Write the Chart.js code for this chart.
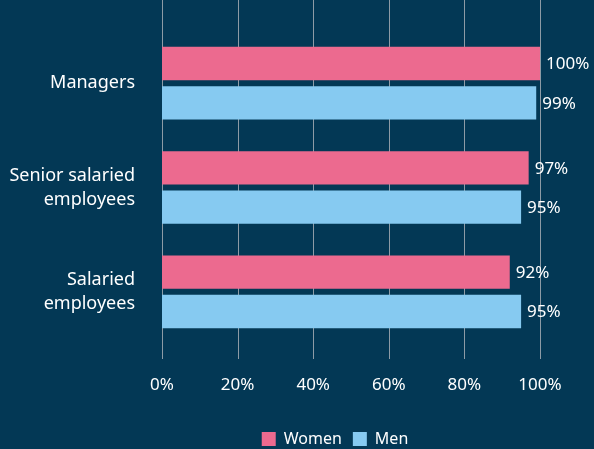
<!DOCTYPE html>
<html>
<head>
<meta charset="utf-8">
<script src="https://cdn.jsdelivr.net/npm/chart.js@4/dist/chart.umd.min.js"></script>
<style>
  html, body { margin: 0; padding: 0; background: #033855; }
  #wrap { width: 594px; height: 449px; }
</style>
</head>
<body>
<div id="wrap"><canvas id="chart" width="594" height="449"></canvas></div>
<script>
const categories = [['Managers'], ['Senior salaried', 'employees'], ['Salaried', 'employees']];
const women = [100, 97, 92];
const men = [99, 95, 95];
const xTicks = [0, 20, 40, 60, 80, 100];

const PINK = '#ec6a8f';
const BLUE = '#86caf1';
const FONT = '"Noto Sans", sans-serif';

// vertical grid lines, drawn from the top of the canvas down past the plot
const gridPlugin = {
  id: 'grid',
  beforeDatasetsDraw(chart) {
    const ctx = chart.ctx;
    const x = chart.scales.x;
    ctx.save();
    ctx.strokeStyle = '#8d9ba6';
    ctx.lineWidth = 1;
    xTicks.forEach(v => {
      const px = Math.round(x.getPixelForValue(v)) + 0.5;
      ctx.beginPath();
      ctx.moveTo(px, 0);
      ctx.lineTo(px, chart.chartArea.bottom + 15);
      ctx.stroke();
    });
    ctx.restore();
  }
};

// value labels at the end of each bar
const valuePlugin = {
  id: 'values',
  afterDatasetsDraw(chart) {
    const ctx = chart.ctx;
    ctx.save();
    ctx.fillStyle = '#ffffff';
    ctx.font = '17px ' + FONT;
    ctx.textBaseline = 'middle';
    ctx.textAlign = 'left';
    chart.data.datasets.forEach((ds, i) => {
      chart.getDatasetMeta(i).data.forEach((bar, j) => {
        ctx.fillText(ds.data[j] + '%', bar.x + 6, bar.y + 1);
      });
    });
    ctx.restore();
  }
};

// nudge the legend a little left of the plot centre
const legendShift = {
  id: 'legendShift',
  afterLayout(chart) {
    if (chart.legend) {
      chart.legend.left -= 16;
      chart.legend.right -= 16;
    }
  }
};

new Chart(document.getElementById('chart'), {
  type: 'bar',
  data: {
    labels: categories,
    datasets: [
      { label: 'Women', data: women, backgroundColor: PINK, categoryPercentage: 0.754, barPercentage: 0.846 },
      { label: 'Men', data: men, backgroundColor: BLUE, categoryPercentage: 0.754, barPercentage: 0.846 }
    ]
  },
  options: {
    indexAxis: 'y',
    responsive: false,
    animation: false,
    layout: { padding: { top: 31, right: 54, left: 0, bottom: -8 } },
    scales: {
      x: {
        min: 0, max: 100,
        afterBuildTicks: s => { s.ticks = xTicks.map(v => ({ value: v })); },
        grid: { display: false },
        border: { display: false },
        ticks: { color: '#ffffff', font: { size: 17, family: FONT }, padding: 23, callback: v => v + '%' },
        afterFit: s => { s.height = 76; }
      },
      y: {
        grid: { display: false },
        border: { display: false },
        ticks: { color: '#ffffff', font: { size: 18, family: FONT, lineHeight: 1.32 }, padding: 19 },
        afterFit: s => { s.width = 162; s.paddingTop = 0; s.paddingBottom = 0; }
      }
    },
    plugins: {
      legend: {
        position: 'bottom',
        fullSize: false,
        labels: { color: '#ffffff', font: { size: 16, family: FONT }, boxWidth: 14, boxHeight: 14, padding: 11 }
      },
      tooltip: { enabled: false }
    }
  },
  plugins: [gridPlugin, valuePlugin, legendShift]
});
</script>
</body>
</html>
